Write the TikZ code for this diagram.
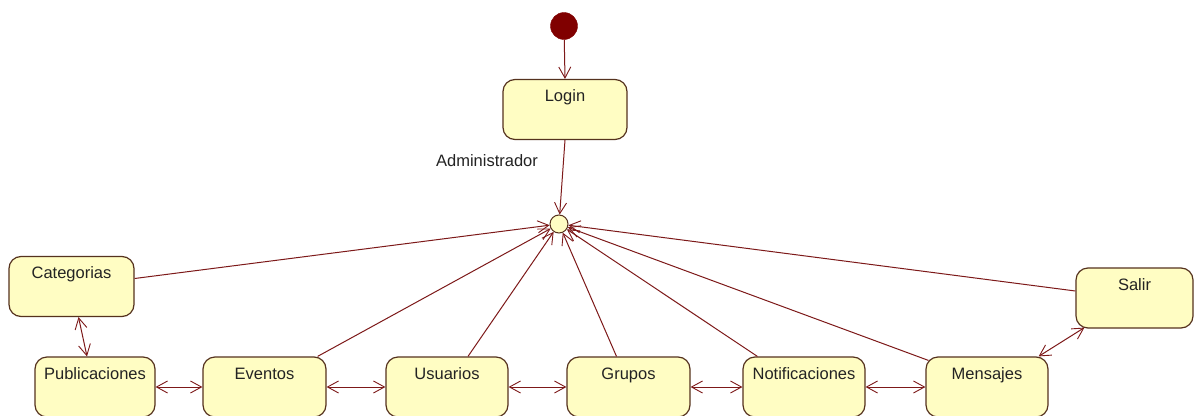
\documentclass[tikz,border=0pt]{standalone}
\usepackage{fontspec}
\setmainfont{Liberation Sans}
\usetikzlibrary{arrows.meta}
\definecolor{wire}{RGB}{125,25,25}
\definecolor{stfill}{RGB}{255,253,195}
\definecolor{stline}{RGB}{85,50,30}
\definecolor{startfill}{RGB}{128,0,0}
\definecolor{txt}{RGB}{35,35,35}
\tikzset{
  barb/.tip={Straight Barb[length=11pt,width=12pt,line width=0.9pt]},
  state/.style={draw=stline, fill=stfill, rounded corners=12pt, line width=1.2pt,
    minimum height=60pt, inner sep=0pt},
  stname/.style={font=\fontsize{16.5}{19}\selectfont, text=txt, anchor=base,
    yshift=-23pt, inner sep=0pt},
  flow/.style={draw=wire, line width=1pt, -barb},
  both/.style={draw=wire, line width=1pt, barb-barb},
}
\begin{document}
\begin{tikzpicture}[x=1pt,y=-1pt]
\useasboundingbox[fill=white] (0,0) rectangle (1194,415);

% initial pseudostate and junction
\node[circle, draw=startfill, fill=startfill, minimum size=27pt, inner sep=0pt] (init) at (564,26) {};
\node[circle, draw=stline, fill=stfill, line width=1pt, minimum size=18pt, inner sep=0pt] (j) at (559,224) {};

% states
\node[state, minimum width=124pt, label={[stname]north:Login}] (login) at (565,109.5) {};
\node[state, minimum width=125pt, label={[stname]north:Categorias}] (cat) at (71.5,286.5) {};
\node[state, minimum width=117pt, label={[stname]north:Salir}] (salir) at (1134.5,298) {};
\node[state, minimum width=120pt, label={[stname]north:Publicaciones}] (pub) at (95,387) {};
\node[state, minimum width=123pt, label={[stname]north:Eventos}] (ev) at (264.5,387) {};
\node[state, minimum width=122pt, label={[stname]north:Usuarios}] (usu) at (447,387) {};
\node[state, minimum width=123pt, label={[stname]north:Grupos}] (gru) at (628.5,387) {};
\node[state, minimum width=122pt, label={[stname]north:Notificaciones}] (noti) at (804,387) {};
\node[state, minimum width=122pt, label={[stname]north:Mensajes}] (men) at (987,387) {};

% entry
\draw[flow] (init) -- (login.north);
\draw[flow] (login.south) -- (j);
\node[font=\fontsize{16.5}{19}\selectfont, text=txt, inner sep=0pt] (admin) at (487,161) {Administrador};

% returns to the junction
\draw[flow] ([yshift=8pt]cat.east) -- (j);
\draw[flow] ([xshift=-9pt]ev.north east) -- (j);
\draw[flow] ([xshift=21pt]usu.north) -- (j);
\draw[flow] ([xshift=-12pt]gru.north) -- (j);
\draw[flow] ([xshift=15pt]noti.north west) -- (j);
\draw[flow] ([xshift=3pt,yshift=-4pt]men.north west) -- (j);
\draw[flow] ([yshift=7pt]salir.west) -- (j);

% navigation between states
\draw[both] ([xshift=7pt]cat.south) -- ([xshift=-8pt]pub.north);
\draw[both] (pub.east) -- (ev.west);
\draw[both] (ev.east) -- (usu.west);
\draw[both] (usu.east) -- (gru.west);
\draw[both] (gru.east) -- (noti.west);
\draw[both] (noti.east) -- (men.west);
\draw[both] ([xshift=-10pt]men.north east) -- ([xshift=9pt,yshift=1pt]salir.south west);
\end{tikzpicture}
\end{document}
